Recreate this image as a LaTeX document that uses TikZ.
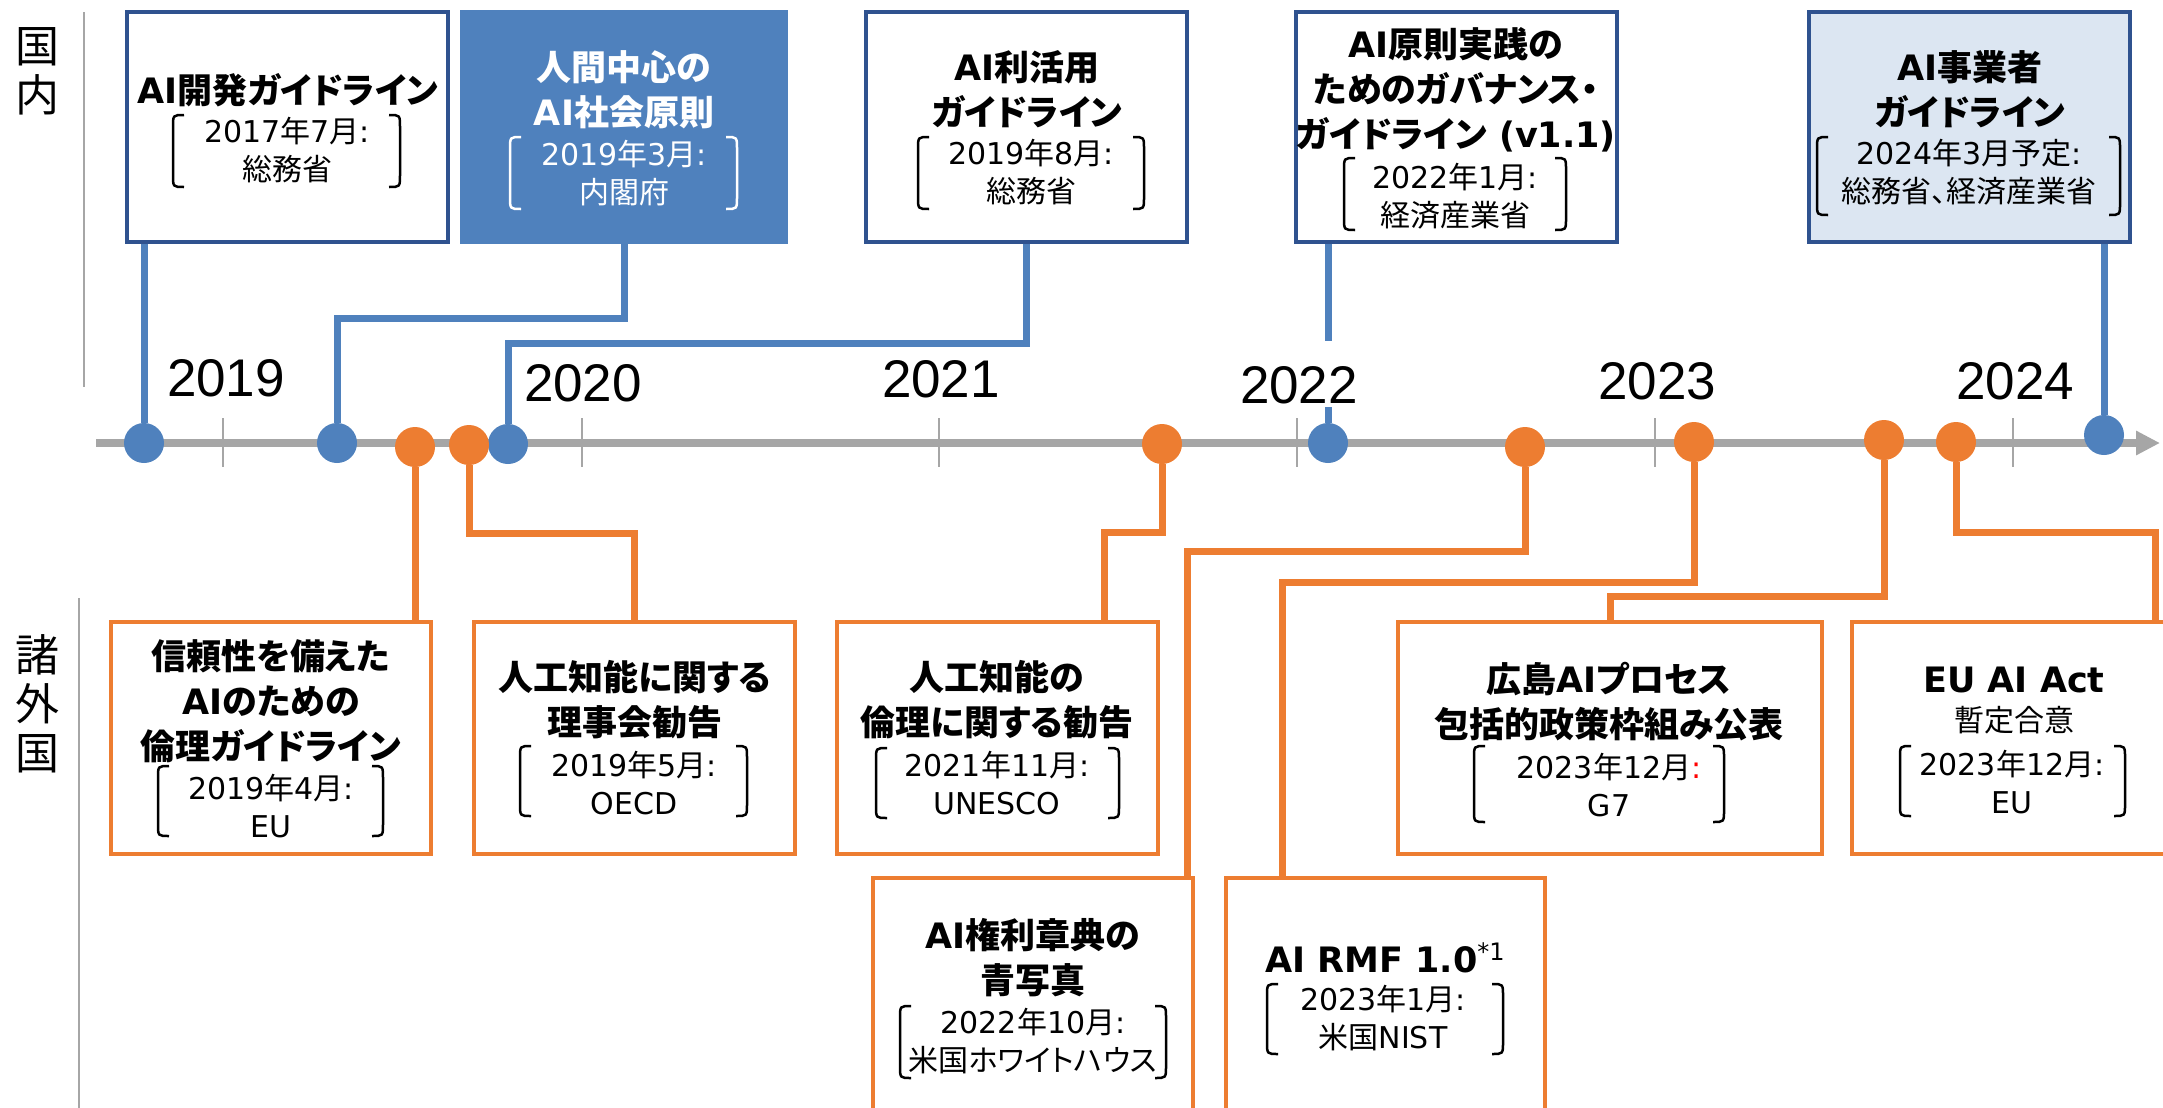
\documentclass[tikz,border=0pt]{standalone}
\usepackage{fontspec}
\setmainfont{Noto Sans CJK JP}[RawFeature=+palt]
\newfontfamily\yearfont{Liberation Sans}
\newfontfamily\ltf{DejaVu Sans}
\newcommand{\lt}[1]{{\ltf #1}}
\usetikzlibrary{arrows.meta}
\definecolor{navy}{RGB}{47,82,143}
\definecolor{ablue}{RGB}{79,129,189}
\definecolor{aorange}{RGB}{237,125,49}
\definecolor{agray}{RGB}{166,166,166}
\definecolor{lblue}{RGB}{220,230,242}
% #2 left x, #3 right x, #4 centre y, #5 half height
\newcommand{\pbrack}[5][black]{%
  \draw[brk,draw=#1] (#2+11,#4-#5) .. controls (#2,#4-#5) .. (#2,#4-#5+12) -- (#2,#4+#5-12) .. controls (#2,#4+#5) .. (#2+11,#4+#5);
  \draw[brk,draw=#1] (#3-11,#4-#5) .. controls (#3,#4-#5) .. (#3,#4-#5+12) -- (#3,#4+#5-12) .. controls (#3,#4+#5) .. (#3-11,#4+#5);}
\begin{document}
\begin{tikzpicture}[x=0.5pt,y=-0.5pt,
  dbox/.style={draw=navy,line width=2pt,fill=white,minimum height=115pt,minimum width=160.5pt,inner sep=0pt},
  obox/.style={draw=aorange,line width=2pt,fill=white,minimum height=116pt,minimum width=160.5pt,inner sep=0pt},
  bl/.style={draw=ablue,line width=3.5pt},
  ol/.style={draw=aorange,line width=3.5pt},
  bdot/.style={circle,fill=ablue,minimum size=20pt,inner sep=0pt},
  odot/.style={circle,fill=aorange,minimum size=20pt,inner sep=0pt},
  ttl/.style={font=\bfseries\fontsize{17.5pt}{22.5pt}\selectfont,align=center,inner sep=0pt},
  subt/.style={font=\fontsize{15pt}{19pt}\selectfont,align=center,inner sep=0pt},
  yr/.style={font=\yearfont\fontsize{26.5pt}{30pt}\selectfont,anchor=base,inner xsep=2pt,inner ysep=0pt},
  secl/.style={font=\fontsize{22pt}{24.5pt}\selectfont,align=center,inner sep=0pt},
  brk/.style={line width=1.25pt},
  tickln/.style={draw=agray,line width=0.8pt},
  divl/.style={draw=agray,line width=0.9pt}]
\useasboundingbox (0,0) rectangle (2163,1108);
\clip (0,0) rectangle (2163,1108);

% dividers and section labels
\draw[divl] (84,12) -- (84,387);
\draw[divl] (79,598) -- (79,1110);
\node[secl] (dom) at (37,71) {国\\内};
\node[secl] (intl) at (37,704) {諸\\外\\国};

% axis
\draw[draw=agray,line width=4pt,-{Triangle[length=12pt,width=11.5pt]}] (96,443) -- (2160,443);
\foreach \x in {223,582,939,1297,1655,2013} \draw[tickln] (\x,418) -- (\x,467);

% domestic boxes
\node[dbox] (A) at (287.5,127) {};
\node[dbox,fill=ablue,draw=ablue,minimum width=162pt] (B) at (624,127) {};
\node[dbox] (C) at (1026.5,127) {};
\node[dbox] (D) at (1456.5,127) {};
\node[dbox,fill=lblue] (E) at (1969.5,127) {};

% international boxes
\node[obox,minimum width=160pt] (F) at (271,738) {};
\node[obox] (G) at (634.5,738) {};
\node[obox] (H) at (997.5,738) {};
\node[obox,minimum width=212pt] (K) at (1610,738) {};
\node[obox,minimum width=162pt] (L) at (2014,738) {};
\node[obox,minimum width=160pt] (I) at (1033,994) {};
\node[obox,minimum width=159.5pt] (J) at (1385.5,994) {};

% texts
\node[ttl] (tA) at (288,90) {\lt{AI}開発ガイドライン};
\node[subt] (sA) at (287,150) {\lt{2017}年\lt{7}月\lt{:}\\総務省};
\pbrack{173}{400}{151}{36}

\node[ttl,text=white] (tB) at (624,89.5) {人間中心の\\\lt{AI}社会原則};
\node[subt,text=white] (sB) at (624,173) {\lt{2019}年\lt{3}月\lt{:}\\内閣府};
\pbrack[white]{510}{737}{173}{36}

\node[ttl] (tC) at (1027,89.5) {\lt{AI}利活用\\ガイドライン};
\node[subt] (sC) at (1031,172.5) {\lt{2019}年\lt{8}月\lt{:}\\総務省};
\pbrack{918}{1144}{173}{36}

\node[ttl] (tD) at (1456,90) {\lt{AI}原則実践の\\ためのガバナンス・\\ガイドライン\lt{ (v1.1)}};
\node[subt] (sD) at (1455,196) {\lt{2022}年\lt{1}月\lt{:}\\経済産業省};
\pbrack{1344}{1566}{194}{36}

\node[ttl] (tE) at (1970,89.5) {\lt{AI}事業者\\ガイドライン};
\node[subt] (sE) at (1969,172.5) {\lt{2024}年\lt{3}月予定\lt{:}\\総務省、経済産業省};
\pbrack{1817}{2120}{176}{39}

\node[ttl] (tF) at (271,701) {信頼性を備えた\\\lt{AI}のための\\倫理ガイドライン};
\node[subt] (sF) at (271,806) {\lt{2019}年\lt{4}月\lt{:}\\\lt{EU}};
\pbrack{158}{383}{801}{35}

\node[ttl] (tG) at (635,700) {人工知能に関する\\理事会勧告};
\node[subt] (sG) at (634,783) {\lt{2019}年\lt{5}月\lt{:}\\\lt{OECD}};
\pbrack{520}{747}{781}{35}

\node[ttl] (tH) at (997,700) {人工知能の\\倫理に関する勧告};
\node[subt] (sH) at (997,783) {\lt{2021}年\lt{11}月\lt{:}\\\lt{UNESCO}};
\pbrack{876}{1119}{783}{35}

\node[ttl] (tI) at (1033,958) {\lt{AI}権利章典の\\青写真};
\node[subt] (sI) at (1033,1041) {\lt{2022}年\lt{10}月\lt{:}\\米国ホワイトハウス};
\pbrack{900}{1166}{1042}{36}

\node[ttl] (tJ) at (1385,958) {\lt{AI RMF 1.0}\raisebox{6pt}{\mdseries\ltf\fontsize{12pt}{12pt}\selectfont *1}};
\node[subt] (sJ) at (1383,1018) {\lt{2023}年\lt{1}月\lt{:}\\米国\lt{NIST}};
\pbrack{1267}{1503}{1019}{35}

\node[ttl] (tK) at (1609,702) {広島\lt{AI}プロセス\\包括的政策枠組み公表};
\node[subt] (sK) at (1609,785) {\lt{2023}年\lt{12}月\textcolor{red}{\lt{:}}\\\lt{G7}};
\pbrack{1474}{1724}{784}{38}

\node[ttl] (tL) at (2014,680) {\lt{EU AI Act}};
\node[subt] (nL) at (2014,720) {暫定合意};
\node[subt] (sL) at (2012,782) {\lt{2023}年\lt{12}月\lt{:}\\\lt{EU}};
\pbrack{1900}{2125}{781}{35}

% dots
\node[bdot] (b1) at (144,443) {};
\node[bdot] (b2) at (337,443) {};
\node[bdot] (b3) at (508,444) {};
\node[bdot] (b4) at (1328,443) {};
\node[bdot] (b5) at (2104,435) {};
\node[odot] (o1) at (415,447) {};
\node[odot] (o2) at (469,445) {};
\node[odot] (o3) at (1162,444) {};
\node[odot] (o4) at (1525,447) {};
\node[odot] (o5) at (1694,442) {};
\node[odot] (o6) at (1884,440) {};
\node[odot] (o7) at (1956,442) {};

% connectors
\draw[bl] (A.south -| b1) -- (b1);
\draw[bl] (B.south) -- (B.south |- 0,318) -| (b2);
\draw[bl] (C.south) -- (C.south |- 0,343) -| (b3);
\draw[bl] (D.south -| b4) -- (b4);
\draw[bl] (E.south -| b5) -- (b5);
\draw[ol] (o1) -- (o1 |- F.north);
\draw[ol] (o2) |- (G.north |- 0,533) -- (G.north);
\draw[ol] (o3) |- (1104,532) -- (H.north -| 1104,0);
\draw[ol] (o4) |- (1187,551) -- (I.north -| 1187,0);
\draw[ol] (o5) |- (1282,582) -- (J.north -| 1282,0);
\draw[ol] (o6) |- (K.north |- 0,596) -- (K.north);
\draw[ol] (o7) |- (2155,532) -- (L.north -| 2155,0);

% year labels
\node[yr] (y19) at (226,396) {2019};
\node[yr] (y20) at (583,401) {2020};
\node[yr] (y21) at (941,397) {2021};
\node[yr,fill=white,text height=29pt,text depth=0pt,inner ysep=2pt] (y22) at (1299,403) {2022};
\node[yr] (y23) at (1657,399) {2023};
\node[yr] (y24) at (2015,399) {2024};
\end{tikzpicture}
\end{document}
